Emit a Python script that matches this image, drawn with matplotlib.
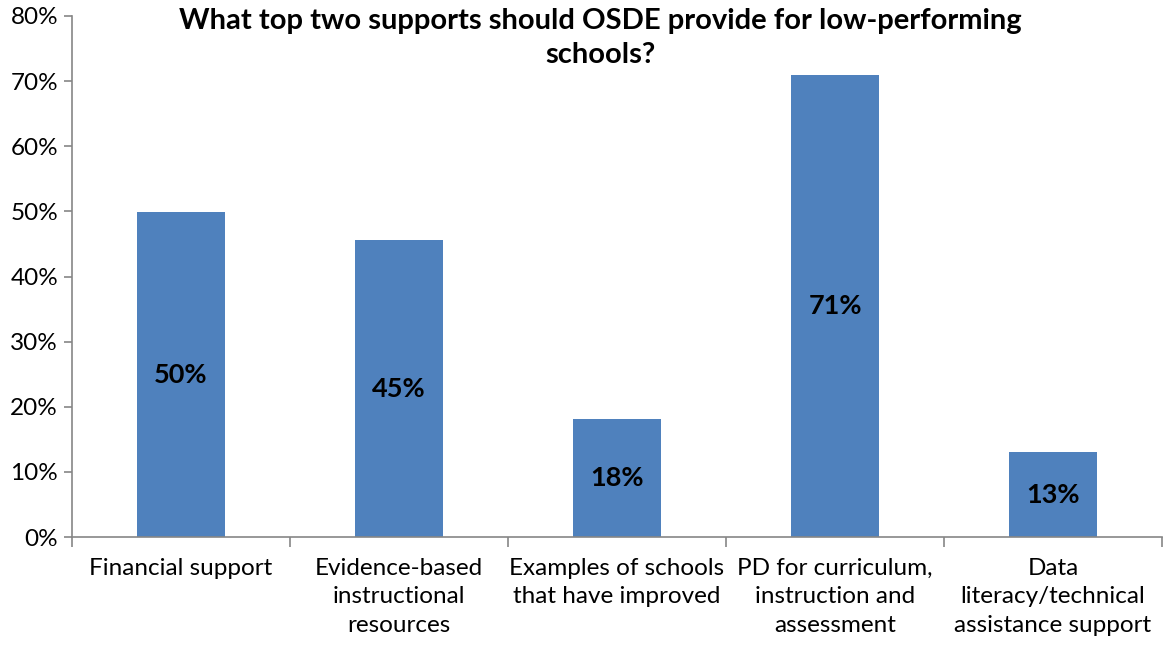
import numpy as np
import matplotlib
matplotlib.use('Agg')
import matplotlib.pyplot as plt

# data
categories = ['Financial support',
              'Evidence-based\ninstructional\nresources',
              'Examples of schools\nthat have improved',
              'PD for curriculum,\ninstruction and\nassessment',
              'Data\nliteracy/technical\nassistance support']
values = [49.9, 45.6, 18.1, 70.9, 13.0]
labels = ['50%', '45%', '18%', '71%', '13%']
yticks = [0, 10, 20, 30, 40, 50, 60, 70, 80]

plt.rcParams['font.family'] = ['Lato', 'DejaVu Sans']

fig = plt.figure(figsize=(11.64, 6.48), dpi=100)
ax = fig.add_axes([72/1164, 1 - 537/648, (1162-72)/1164, (537-16)/648])

x = np.arange(len(categories))
bars = ax.bar(x, values, width=0.4, color='#4f81bd', zorder=2)

# value labels in the middle of each bar
for xi, v, lab in zip(x, values, labels):
    ax.text(xi, v/2, lab, ha='center', va='center', fontsize=19.5,
            fontweight='bold', color='black')

ax.set_xlim(-0.5, len(categories) - 0.5)
ax.set_ylim(0, 80)
ax.set_yticks(yticks)
ax.set_yticklabels([f'{t}%' for t in yticks], fontsize=17.5)

# category labels centred, tick marks between categories
ax.set_xticks(x)
ax.set_xticklabels(categories, fontsize=17.5, linespacing=1.45)
ax.tick_params(axis='x', length=0, pad=15)
ax.set_xticks(np.arange(-0.5, len(categories)), minor=True)
ax.tick_params(axis='x', which='minor', length=7, color='#868686', width=1.2)
ax.tick_params(axis='y', length=6, color='#868686', width=1.2, pad=4)

for side in ['top', 'right']:
    ax.spines[side].set_visible(False)
for side in ['left', 'bottom']:
    ax.spines[side].set_color('#868686')
    ax.spines[side].set_linewidth(1.2)

fig.text(600/1164, 1 - 38/648,
         'What top two supports should OSDE provide for low-performing\nschools?',
         ha='center', va='center', fontsize=21, fontweight='bold', linespacing=1.42)

fig.savefig('out.png', dpi=100)
